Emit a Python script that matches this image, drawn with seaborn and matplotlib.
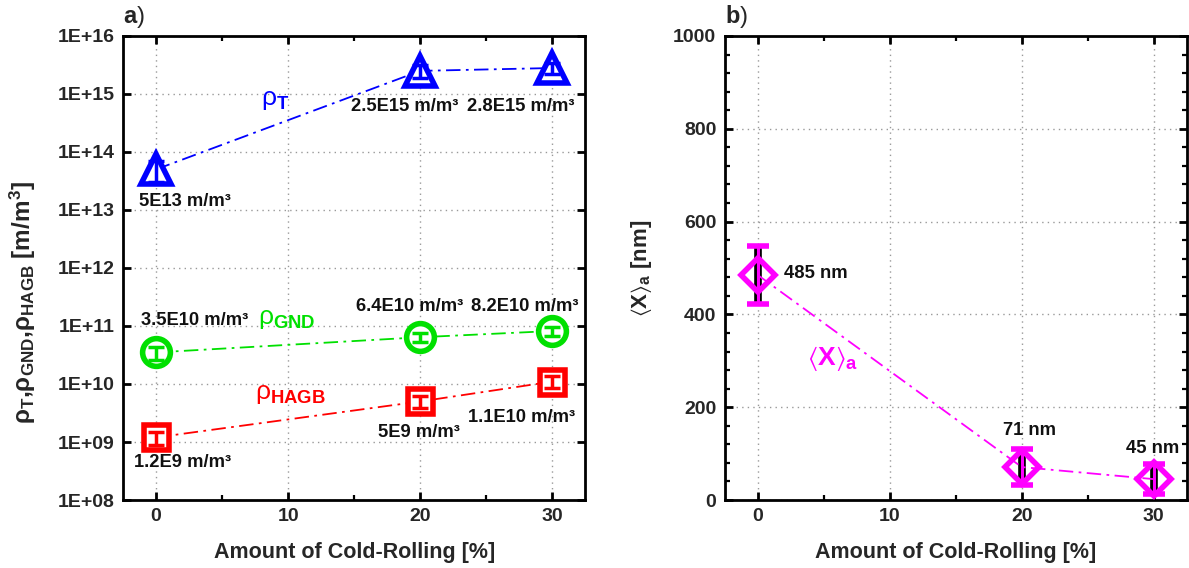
import numpy as np
import pandas as pd
import seaborn as sns
import matplotlib
matplotlib.use("Agg")
import matplotlib.pyplot as plt
from matplotlib.ticker import FixedLocator, FuncFormatter, MultipleLocator, AutoMinorLocator

# ---- data -------------------------------------------------------------
rolling = [0, 20, 30]                      # amount of cold rolling [%]
rho_T = [5e13, 2.5e15, 2.8e15]             # total dislocation density [m/m^3]
rho_T_err = [2.0e13, 6.0e14, 6.0e14]
rho_GND = [3.5e10, 6.4e10, 8.2e10]         # geometrically necessary dislocations
rho_GND_err = [0.9e10, 1.2e10, 1.4e10]
rho_HAGB = [1.2e9, 5e9, 1.1e10]            # high-angle grain boundary density
rho_HAGB_err = [0.3e9, 1.2e9, 2.5e9]
size_a = [485, 71, 45]                     # mean size <X>_a [nm]
size_a_err = [62, 39, 33]

# ---- style ------------------------------------------------------------
sns.set_theme(style="ticks")
plt.rcParams["font.family"] = ["Liberation Sans", "DejaVu Sans"]
plt.rcParams["mathtext.fontset"] = "custom"
plt.rcParams["mathtext.rm"] = "Liberation Sans"
plt.rcParams["mathtext.bf"] = "Liberation Sans:bold"
plt.rcParams["mathtext.it"] = "Liberation Sans:italic"
plt.rcParams["mathtext.fallback"] = "stixsans"

BLUE, GREEN, RED, MAGENTA = "#0000ff", "#00e000", "#ff0000", "#ff00ff"
TICK_FS = 14
LABEL_FS = 15.5
VAL_FS = 13.2

fig = plt.figure(figsize=(11.89, 5.68), dpi=100)
ax1 = fig.add_axes([0.1034, 0.1197, 0.389, 0.817])
ax2 = fig.add_axes([0.6095, 0.1197, 0.3886, 0.817])


def style_axes(ax):
    for s in ax.spines.values():
        s.set_linewidth(2.0)
        s.set_color("black")
    ax.tick_params(which="both", direction="in", top=True, right=True,
                   color="black", labelsize=TICK_FS, pad=6)
    ax.tick_params(which="major", length=6, width=2)
    ax.tick_params(which="minor", length=3.5, width=1.6)
    for lab in ax.get_xticklabels() + ax.get_yticklabels():
        lab.set_fontweight("bold")
    ax.grid(True, which="major", linestyle=(0, (1, 3)), color="#999999", linewidth=1.0)
    ax.set_axisbelow(True)
    ax.set_xlim(-2.5, 32.5)
    ax.xaxis.set_major_locator(MultipleLocator(10))
    ax.xaxis.set_minor_locator(MultipleLocator(5))
    ax.set_xlabel("Amount of Cold-Rolling [%]", fontsize=LABEL_FS, fontweight="bold", labelpad=12)


def fmt_density(v):
    mant, exp = f"{v:.1e}".split("e")
    mant = mant.rstrip("0").rstrip(".")
    return f"{mant}E{int(exp)} m/m³"


def draw_series(ax, y, yerr, color, marker, ms):
    df = pd.DataFrame({"x": rolling, "y": y})
    ax.errorbar(rolling, y, yerr=yerr, fmt="none", ecolor=color, elinewidth=2.5,
                capsize=6, capthick=2.5, zorder=4)
    sns.lineplot(data=df, x="x", y="y", ax=ax, color=color, linestyle=(0, (8, 3, 1.5, 3)),
                 linewidth=1.3, marker=marker, markersize=ms, markeredgewidth=4,
                 markerfacecolor="white", markeredgecolor=color, zorder=3)


# ---- panel a ----------------------------------------------------------
ax1.set_yscale("log")
draw_series(ax1, rho_T, rho_T_err, BLUE, "^", 22)
draw_series(ax1, rho_GND, rho_GND_err, GREEN, "o", 20)
draw_series(ax1, rho_HAGB, rho_HAGB_err, RED, "s", 18)
ax1.set_ylim(1e8, 1e16)
ax1.yaxis.set_major_locator(FixedLocator([10.0 ** e for e in range(8, 17)]))
ax1.yaxis.set_minor_locator(FixedLocator([]))
ax1.yaxis.set_major_formatter(FuncFormatter(lambda v, p: f"1E+{int(round(np.log10(v))):02d}"))
style_axes(ax1)
ax1.set_ylabel(r"ρ$_\mathbf{T}$,ρ$_\mathbf{GND}$,ρ$_\mathbf{HAGB}$ [m/m$^\mathbf{3}$]",
               fontsize=17.5, fontweight="bold")
ax1.yaxis.set_label_coords(-0.183, 0.425)

# value labels
pos_T = [(2.2, 10 ** 13.14), (18.8, 10 ** 14.78), (27.6, 10 ** 14.78)]
pos_GND = [(2.9, 10 ** 11.10), (19.2, 10 ** 11.33), (27.9, 10 ** 11.33)]
pos_HAGB = [(2.0, 10 ** 8.64), (19.9, 10 ** 9.16), (27.7, 10 ** 9.43)]
for vals, poss in ((rho_T, pos_T), (rho_GND, pos_GND), (rho_HAGB, pos_HAGB)):
    for v, (px, py) in zip(vals, poss):
        ax1.text(px, py, fmt_density(v), ha="center", va="center",
                 fontsize=VAL_FS, fontweight="bold", color="#111111", zorder=6)

ax1.text(9.0, 10 ** 14.90, r"ρ$_\mathbf{T}$", color=BLUE, fontsize=19, ha="center", va="center")
ax1.text(9.9, 10 ** 11.12, r"ρ$_\mathbf{GND}$", color=GREEN, fontsize=19, ha="center", va="center")
ax1.text(10.2, 10 ** 9.82, r"ρ$_\mathbf{HAGB}$", color=RED, fontsize=19, ha="center", va="center")
ax1.text(0.0, 1.012, r"$\mathbf{a}$)", transform=ax1.transAxes, fontsize=17, ha="left", va="bottom")

# ---- panel b ----------------------------------------------------------
df_b = pd.DataFrame({"x": rolling, "y": size_a})
ax2.errorbar(rolling, size_a, yerr=size_a_err, fmt="none", ecolor="black", elinewidth=5.5,
             capsize=0, zorder=4)
ax2.errorbar(rolling, size_a, yerr=size_a_err, fmt="none", ecolor=MAGENTA, elinewidth=2.2,
             capsize=8, capthick=4, zorder=5)
sns.lineplot(data=df_b, x="x", y="y", ax=ax2, color=MAGENTA, linestyle=(0, (8, 3, 1.5, 3)),
             linewidth=1.3, marker="D", markersize=17, markeredgewidth=4,
             markerfacecolor="none", markeredgecolor=MAGENTA, zorder=6)
ax2.set_ylim(0, 1000)
ax2.yaxis.set_major_locator(MultipleLocator(200))
ax2.yaxis.set_minor_locator(AutoMinorLocator(5))
style_axes(ax2)
ax2.set_ylabel(r"$\langle\mathbf{X}\rangle_\mathbf{a}$ $\mathbf{[nm]}$", fontsize=16, fontweight="bold")
ax2.yaxis.set_label_coords(-0.153, 0.5)

pos_b = [(2.0, 488, "left"), (20.6, 149, "center"), (29.9, 110, "center")]
for v, (px, py, ha) in zip(size_a, pos_b):
    ax2.text(px, py, f"{v:g} nm", ha=ha, va="center", fontsize=VAL_FS,
             fontweight="bold", color="#111111", zorder=7)
ax2.text(5.7, 306, r"$\langle\mathbf{X}\rangle_\mathbf{a}$", color=MAGENTA, fontsize=19,
         ha="center", va="center")
ax2.text(0.0, 1.012, r"$\mathbf{b}$)", transform=ax2.transAxes, fontsize=17, ha="left", va="bottom")

fig.savefig("out.png", dpi=100)
